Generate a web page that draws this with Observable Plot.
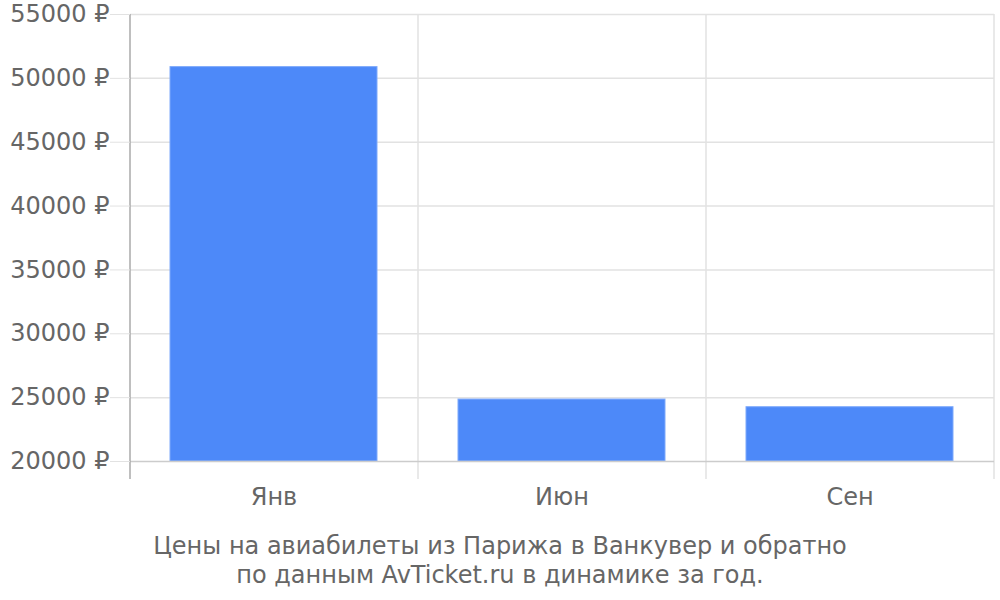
<!DOCTYPE html>
<html>
<head>
<meta charset="utf-8">
<script src="https://cdn.jsdelivr.net/npm/d3@7"></script>
<script src="https://cdn.jsdelivr.net/npm/@observablehq/plot@0.6"></script>
<style>
  html, body { margin: 0; padding: 0; background: #fff; }
  #chart svg { display: block; }
  #caption {
    font-family: "DejaVu Sans", sans-serif;
    font-size: 24px;
    color: #666;
    text-align: center;
    line-height: 29px;
    width: 1000px;
    margin-top: 22px;
  }
</style>
</head>
<body>
<div id="chart"></div>
<div id="caption">Цены на авиабилеты из Парижа в Ванкувер и обратно<br>по данным AvTicket.ru в динамике за год.</div>
<script>
const months = ["Янв", "Июн", "Сен"];
const prices = [50880, 24850, 24250];
const yTicks = [20000, 25000, 30000, 35000, 40000, 45000, 50000, 55000];
const currency = "₽";

const data = months.map((m, i) => ({month: m, price: prices[i]}));
const yMin = yTicks[0], yMax = yTicks[yTicks.length - 1];

const chart = Plot.plot({
  width: 1000,
  height: 510,
  marginLeft: 130,
  marginRight: 6,
  marginTop: 14,
  marginBottom: 49,
  style: {fontFamily: "DejaVu Sans, sans-serif", fontSize: "24px", color: "#666", background: "#fff"},
  x: {domain: months, paddingInner: 0.28, paddingOuter: 0.14, label: null},
  y: {domain: [yMin, yMax], label: null},
  marks: [
    Plot.gridY(yTicks.slice(1), {stroke: "#e2e2e2", strokeOpacity: 1, strokeWidth: 1.5}),
    Plot.ruleX(months, {x: d => d, dx: 144, y1: yMax, y2: yMin, insetBottom: -18, stroke: "#e2e2e2", strokeWidth: 1.5}),
    Plot.barY(data, {x: "month", y1: yMin, y2: "price", fill: "#4d89f9", stroke: "#7ea9fb", strokeWidth: 1}),
    Plot.ruleY([yMin], {stroke: "#cccccc", strokeWidth: 1.5}),
    Plot.ruleX([months[0]], {x: d => d, dx: -144, y1: yMax, y2: yMin, insetBottom: -18, stroke: "#aaaaaa", strokeWidth: 1.5}),
    Plot.axisY({ticks: yTicks, tickFormat: d => d + " " + currency, tickSize: 20, tickPadding: 1, stroke: "#e2e2e2", fill: "#666", fontSize: 24, label: null}),
    Plot.axisX({tickSize: 0, tickPadding: 26, fill: "#666", fontSize: 24, label: null})
  ]
});
document.getElementById("chart").appendChild(chart);
</script>
</body>
</html>
